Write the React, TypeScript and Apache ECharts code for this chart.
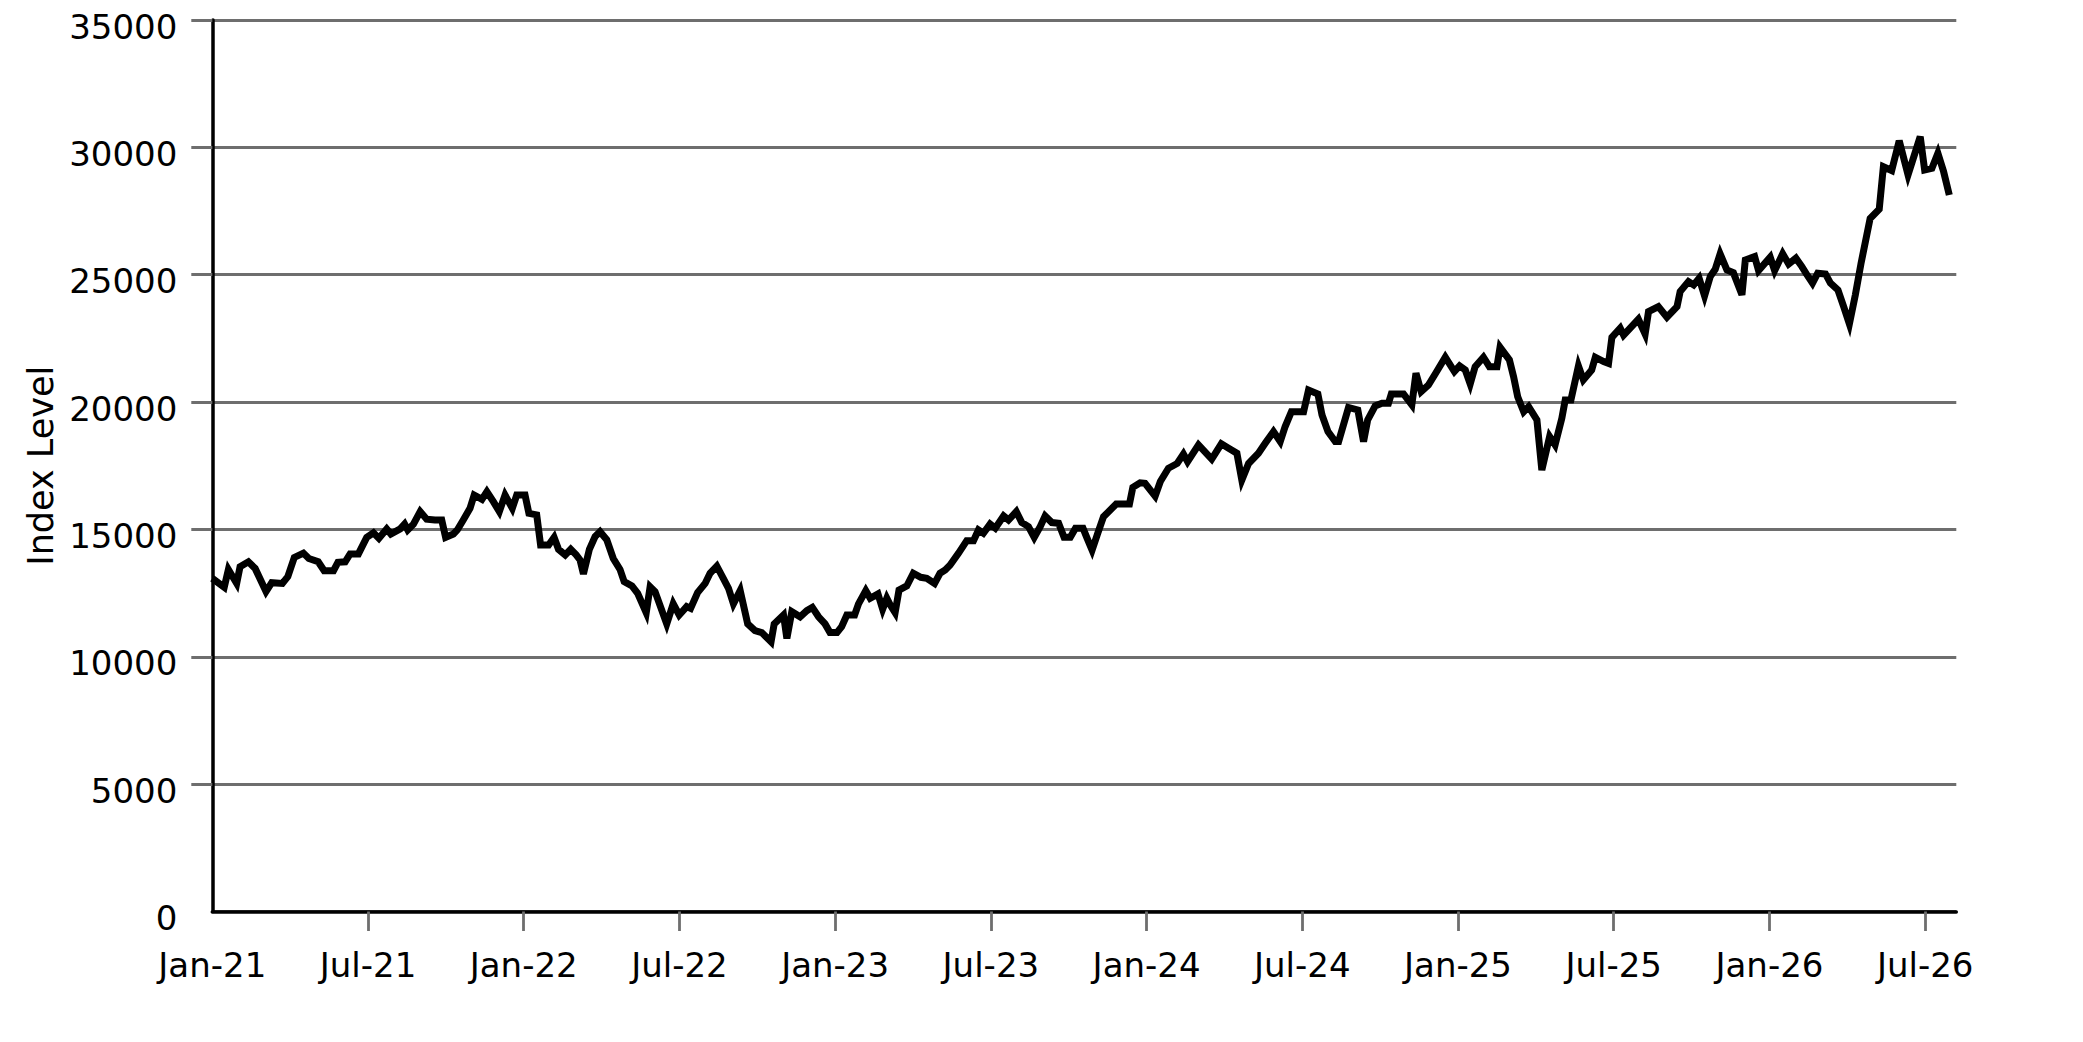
import React, { useEffect, useRef } from "react";
import * as echarts from "echarts";

// x position of each reading, in months since Jan 2021
const months = [
  0, 0.46, 0.62, 0.94, 1.07, 1.39, 1.65, 2.07, 2.29, 2.7, 2.91, 3.16, 3.51, 3.72, 4.08, 4.31, 4.67, 4.84, 5.12, 5.31,
  5.63, 5.95, 6.21, 6.42, 6.72, 6.88, 7.24, 7.41, 7.53, 7.75, 8.01, 8.26, 8.58, 8.84, 8.99, 9.29, 9.44, 9.67, 9.93, 10.09,
  10.39, 10.58, 10.83, 11.06, 11.28, 11.56, 11.73, 12.05, 12.2, 12.5, 12.65, 12.96, 13.17, 13.34, 13.6, 13.81, 14.02, 14.17, 14.3, 14.53,
  14.75, 14.94, 15.2, 15.45, 15.71, 15.87, 16.17, 16.39, 16.72, 16.87, 17.06, 17.51, 17.76, 17.99, 18.28, 18.43, 18.7, 18.99, 19.18, 19.44,
  19.69, 19.89, 20.08, 20.34, 20.63, 20.91, 21.17, 21.53, 21.65, 22.01, 22.14, 22.33, 22.65, 22.91, 23.12, 23.36, 23.61, 23.8, 24.07, 24.25,
  24.45, 24.75, 24.9, 25.18, 25.35, 25.65, 25.83, 25.99, 26.12, 26.31, 26.46, 26.76, 27.01, 27.3, 27.53, 27.83, 28.04, 28.24, 28.43, 28.75,
  29.07, 29.33, 29.52, 29.71, 29.97, 30.17, 30.49, 30.68, 30.98, 31.19, 31.45, 31.67, 31.9, 32.09, 32.35, 32.61, 32.82, 33.06, 33.26, 33.55,
  33.71, 33.9, 34.12, 34.34, 34.6, 34.83, 35.34, 35.47, 35.75, 35.94, 36.33, 36.53, 36.84, 37.18, 37.42, 37.58, 38.0, 38.51, 38.88, 39.16,
  39.48, 39.67, 39.93, 40.31, 40.57, 40.89, 41.15, 41.34, 41.58, 42.05, 42.24, 42.6, 42.76, 42.99, 43.27, 43.4, 43.78, 44.14, 44.36, 44.52,
  44.81, 45.07, 45.32, 45.43, 45.9, 46.22, 46.38, 46.58, 46.86, 47.15, 47.51, 47.86, 48.06, 48.28, 48.47, 48.66, 48.98, 49.21, 49.5, 49.62,
  49.98, 50.14, 50.3, 50.53, 50.72, 51.04, 51.23, 51.53, 51.74, 52.0, 52.13, 52.35, 52.64, 52.83, 53.15, 53.29, 53.61, 53.8, 53.93, 54.25,
  54.38, 54.95, 55.21, 55.34, 55.72, 56.05, 56.44, 56.56, 56.88, 57.08, 57.29, 57.5, 57.72, 57.91, 58.1, 58.36, 58.61, 58.94, 59.07, 59.43,
  59.58, 60.03, 60.2, 60.51, 60.74, 61.02, 61.25, 61.45, 61.66, 61.86, 62.16, 62.35, 62.64, 62.86, 63.08, 63.31, 63.53, 63.88, 64.23, 64.39,
  64.71, 65.0, 65.34, 65.81, 65.98, 66.26, 66.49, 66.71, 66.93,
];

const values = [
  13080, 12730, 13430, 12880, 13540, 13730, 13470, 12560, 12910, 12880, 13150, 13900, 14070, 13860, 13730, 13380, 13380, 13710, 13730, 14040,
  14040, 14690, 14870, 14650, 15020, 14820, 15020, 15210, 14980, 15210, 15700, 15400, 15370, 15370, 14690, 14820, 14980, 15370, 15830, 16350,
  16180, 16480, 16090, 15700, 16350, 15830, 16350, 16350, 15630, 15570, 14390, 14390, 14690, 14220, 14000, 14220, 14000, 13800, 13250, 14220,
  14720, 14910, 14590, 13860, 13430, 12950, 12780, 12490, 11730, 12750, 12560, 11290, 12080, 11640, 11970, 11900, 12520, 12880, 13280, 13560,
  13080, 12690, 12080, 12600, 11290, 11030, 10950, 10590, 11290, 11640, 10720, 11770, 11570, 11810, 11940, 11570, 11290, 10950, 10950, 11180,
  11640, 11640, 12080, 12600, 12300, 12470, 11870, 12300, 12040, 11730, 12620, 12780, 13280, 13120, 13080, 12880, 13280, 13410, 13600, 14060,
  14560, 14560, 14980, 14850, 15210, 15050, 15530, 15370, 15700, 15270, 15110, 14690, 15110, 15530, 15270, 15240, 14690, 14690, 15050, 15050,
  14650, 14190, 14850, 15500, 15760, 16000, 16000, 16650, 16830, 16810, 16310, 16880, 17400, 17590, 17960, 17660, 18320, 17760, 18360, 18190,
  17990, 16940, 17590, 17990, 18380, 18840, 18450, 19040, 19620, 19620, 20470, 20320, 19490, 18840, 18450, 18450, 19790, 19690, 18450, 19300,
  19850, 19950, 19950, 20320, 20320, 19890, 21130, 20410, 20670, 21150, 21760, 21200, 21420, 21260, 20710, 21390, 21760, 21390, 21390, 22150,
  21660, 21000, 20210, 19620, 19820, 19300, 17330, 18650, 18320, 19360, 20080, 20080, 21420, 20870, 21260, 21760, 21590, 21520, 22540, 22900,
  22630, 23250, 22670, 23550, 23750, 23330, 23750, 24340, 24730, 24600, 24860, 24170, 24930, 25210, 25820, 25190, 25080, 24210, 25580, 25710,
  25160, 25690, 25160, 25820, 25420, 25650, 25320, 24990, 24670, 25060, 25030, 24670, 24400, 23750, 23070, 24210, 25450, 27210, 27570, 29240,
  29090, 30260, 28920, 30420, 29110, 29180, 29770, 29050, 28130,
];

const xTickMonths = [0, 6, 12, 18, 24, 30, 36, 42, 48, 54, 60, 66];
const xTickLabels = [
  "Jan-21", "Jul-21", "Jan-22", "Jul-22", "Jan-23", "Jul-23",
  "Jan-24", "Jul-24", "Jan-25", "Jul-25", "Jan-26", "Jul-26",
];
const yTicks = [0, 5000, 10000, 15000, 20000, 25000, 30000, 35000];
const yTitle = "Index Level";

const FONT = "'DejaVu Sans', sans-serif";
const GRAY = "#6e6e6e";
const X_MIN = 0;
const X_MAX = 67.2;

export default function App() {
  const ref = useRef<HTMLDivElement>(null);

  useEffect(() => {
    if (!ref.current) return;
    const chart = echarts.init(ref.current, undefined, { renderer: "svg" });
    const data = months.map((m, i) => [m, values[i]]);
    chart.setOption({
      animation: false,
      backgroundColor: "#ffffff",
      grid: { left: 204.3, top: 12, width: 1744, height: 891.5, containLabel: false },
      xAxis: [
        {
          type: "value",
          min: X_MIN,
          max: X_MAX,
          interval: 6,
          position: "bottom",
          axisLine: { show: true, lineStyle: { color: "#000", width: 3.5 } },
          axisTick: { show: false },
          splitLine: { show: false },
          axisLabel: {
            customValues: xTickMonths,
            formatter: (v: number) => {
              const i = xTickMonths.indexOf(Math.round(v));
              return i >= 0 ? xTickLabels[i] : "";
            },
            fontSize: 34,
            fontFamily: FONT,
            color: "#000",
            margin: 36,
          },
        },
        {
          type: "value",
          min: X_MIN,
          max: X_MAX,
          interval: 6,
          position: "bottom",
          offset: 6,
          axisLine: { show: false },
          axisTick: {
            show: true,
            length: 19.5,
            customValues: xTickMonths.slice(1),
            lineStyle: { color: GRAY, width: 2.8 },
          },
          axisLabel: { show: false },
          splitLine: { show: false },
        },
      ],
      yAxis: [
        {
          type: "value",
          min: 0,
          max: 35000,
          interval: 5000,
          name: yTitle,
          nameLocation: "middle",
          nameGap: 141,
          nameTextStyle: { fontSize: 35, fontFamily: FONT, color: "#000" },
          axisLine: { show: true, lineStyle: { color: "#000", width: 3.5 } },
          axisTick: { show: false },
          splitLine: { show: true, lineStyle: { color: GRAY, width: 3 } },
          axisLabel: {
            customValues: yTicks,
            formatter: (v: number) => String(Math.round(v)),
            fontSize: 34,
            fontFamily: FONT,
            color: "#000",
            margin: 35,
            verticalAlign: "top",
            lineHeight: 13,
          },
        },
        {
          type: "value",
          min: 0,
          max: 35000,
          interval: 5000,
          position: "left",
          offset: 4,
          axisLine: { show: false },
          axisTick: {
            show: true,
            length: 21,
            customValues: yTicks.slice(1),
            lineStyle: { color: GRAY, width: 3 },
          },
          axisLabel: { show: false },
          splitLine: { show: false },
        },
      ],
      series: [
        {
          type: "line",
          xAxisIndex: 0,
          yAxisIndex: 0,
          data,
          symbol: "none",
          showSymbol: false,
          lineStyle: { color: "#000", width: 7, join: "miter", miterLimit: 4 },
          z: 5,
        },
      ],
    });
    return () => chart.dispose();
  }, []);

  return <div ref={ref} style={{ width: 2067, height: 1026 }} />;
}
